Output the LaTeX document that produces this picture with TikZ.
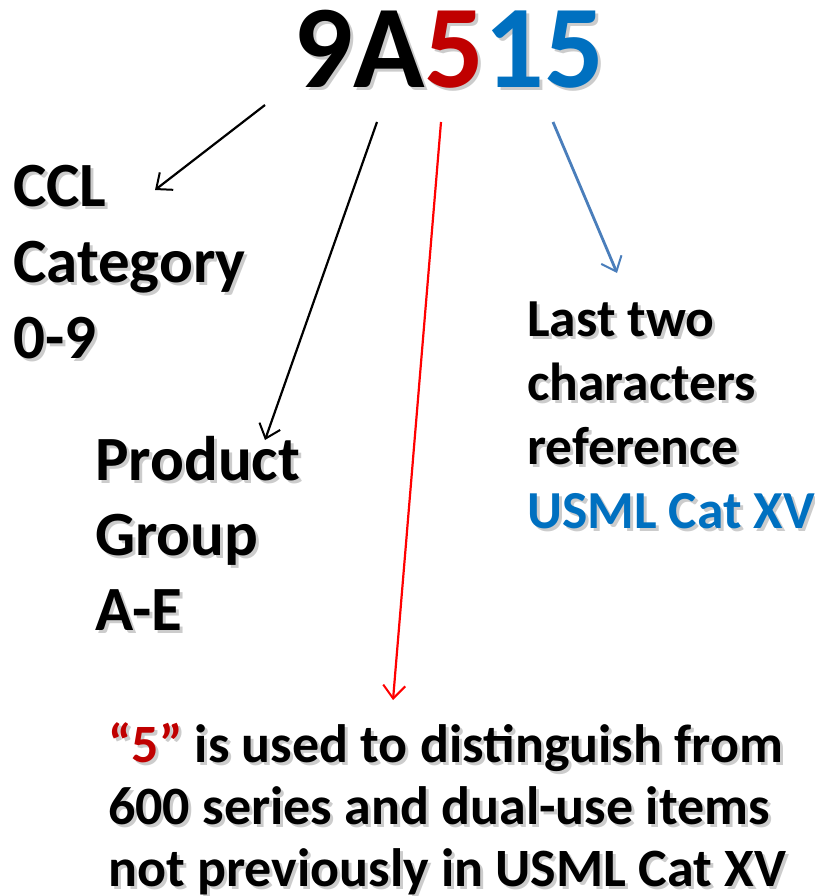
\documentclass[tikz,border=0pt]{standalone}
\usepackage{fontspec}
\setmainfont{Carlito}
\usetikzlibrary{arrows.meta}

\definecolor{redfive}{HTML}{C00000}
\definecolor{usmlblue}{HTML}{0070C0}
\definecolor{arrowblue}{HTML}{4A7EBB}
\definecolor{arrowred}{HTML}{FF0000}
\definecolor{shadowgray}{gray}{0.80}

% soft drop shadow under a line of text
\newcommand\shd[1]{\leavevmode\rlap{\kern3pt\raisebox{-3pt}{\colorlet{redfive}{shadowgray}\colorlet{usmlblue}{shadowgray}\color{shadowgray}#1}}#1}

\begin{document}
\begin{tikzpicture}[x=1pt,y=-1pt,
	lbl/.style={anchor=base west,inner sep=0pt,align=left,font=\fontsize{63}{76}\selectfont\bfseries},
	pointer/.style={-{Straight Barb[length=13pt,width=22pt,line width=2pt]},line width=2.2pt}]
	\useasboundingbox (0,0) rectangle (814,896);
	%\draw[help lines] (0,0) grid[step=50] (814,896);
	\node[anchor=base west,inner sep=0pt,font=\fontsize{118}{118}\selectfont\bfseries] (code) at (293,88)
		{\shd{9A\textcolor{redfive}{5}\textcolor{usmlblue}{15}}};
	% base anchor = baseline of the last line
	\node[lbl] (ccl) at (13,358) {\shd{CCL}\\ \shd{Category}\\ \shd{0-9}};
	\node[lbl,font=\fontsize{63}{75}\selectfont\bfseries] (prod) at (95,630) {\shd{Product}\\ \shd{Group}\\ \shd{A-E}};
	\node[lbl,font=\fontsize{53.5}{64}\selectfont\bfseries] (last) at (527,528)
		{\shd{Last two}\\ \shd{characters}\\ \shd{reference}\\ \shd{\textcolor{usmlblue}{USML Cat XV}}};
	\node[lbl,font=\fontsize{54}{62}\selectfont\bfseries] (five) at (108,886)
		{\shd{\textcolor{redfive}{“5”} is used to distinguish from}\\ \shd{600 series and dual-use items}\\ \shd{not previously in USML Cat XV}};
	\coordinate (t9) at (265,105);
	\coordinate (h9) at (155,190);
	\coordinate (tA) at (377,122);
	\coordinate (hA) at (265,440);
	\coordinate (t5) at (441,122);
	\coordinate (h5) at (393,700);
	\coordinate (t15) at (553,122);
	\coordinate (h15) at (617,273);
	\draw[pointer] (t9) -- (h9);
	\draw[pointer] (tA) -- (hA);
	\draw[pointer,arrowred] (t5) -- (h5);
	\draw[pointer,arrowblue,line width=2.8pt] (t15) -- (h15);
\end{tikzpicture}
\end{document}
